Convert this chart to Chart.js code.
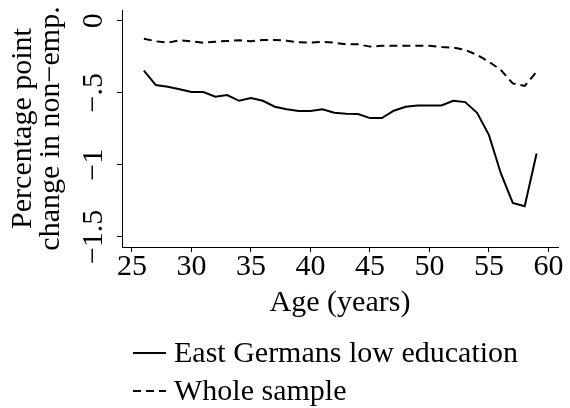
<!DOCTYPE html>
<html>
<head>
<meta charset="utf-8">
<script src="https://cdn.jsdelivr.net/npm/chart.js@4.4.1/dist/chart.umd.min.js"></script>
<style>
  html, body { margin: 0; padding: 0; background: #fff; }
  #wrap { width: 570px; height: 408px; position: relative; }
</style>
</head>
<body>
<div id="wrap"><canvas id="chart"></canvas></div>
<script>
// Data
const ages = [26, 27, 28, 29, 30, 31, 32, 33, 34, 35, 36, 37, 38, 39, 40, 41, 42,
  43, 44, 45, 46, 47, 48, 49, 50, 51, 52, 53, 54, 55, 56, 57, 58, 59];
const eastLowEdu = [-0.347, -0.447, -0.458, -0.476, -0.495, -0.495, -0.528, -0.516, -0.556, -0.537,
  -0.556, -0.597, -0.615, -0.627, -0.627, -0.615, -0.639, -0.645, -0.648, -0.676,
  -0.676, -0.625, -0.597, -0.588, -0.588, -0.588, -0.556, -0.565, -0.639, -0.794,
  -1.06, -1.264, -1.287, -0.921];
const wholeSample = [-0.125, -0.143, -0.153, -0.136, -0.143, -0.153, -0.146, -0.141, -0.136, -0.143,
  -0.134, -0.134, -0.139, -0.150, -0.153, -0.146, -0.153, -0.164, -0.164, -0.180,
  -0.174, -0.174, -0.174, -0.174, -0.174, -0.183, -0.187, -0.203, -0.238, -0.285,
  -0.342, -0.435, -0.453, -0.354];
const seriesNames = ["East Germans low education", "Whole sample"];
const xTicks = [25, 30, 35, 40, 45, 50, 55, 60];
const yTicks = [0, -0.5, -1, -1.5];
const yTickLabels = ["0", "\u2212.5", "\u22121", "\u22121.5"];

const FONT = "'Liberation Serif', 'Times New Roman', serif";
Chart.defaults.font.family = FONT;
Chart.defaults.color = "#000";

// y tick labels (rotated, Stata style) and the stacked legend under the plot
const stataBits = {
  id: "stataBits",
  afterDraw(chart) {
    const ctx = chart.ctx;
    const y = chart.scales.y;
    ctx.save();
    ctx.fillStyle = "#000";
    ctx.font = "30px " + FONT;
    yTicks.forEach((v, i) => {
      ctx.save();
      ctx.translate(102, y.getPixelForValue(v));
      ctx.rotate(-Math.PI / 2);
      ctx.textAlign = "center";
      ctx.textBaseline = "alphabetic";
      ctx.fillText(yTickLabels[i], 0, 0);
      ctx.restore();
    });

    // legend
    const rows = [353, 391];
    chart.data.datasets.forEach((ds, i) => {
      const ly = rows[i];
      ctx.beginPath();
      ctx.strokeStyle = "#000";
      ctx.lineWidth = 2;
      ctx.setLineDash(ds.borderDash || []);
      ctx.moveTo(133, ly);
      ctx.lineTo(166, ly);
      ctx.stroke();
      ctx.setLineDash([]);
      ctx.textAlign = "left";
      ctx.textBaseline = "middle";
      ctx.fillText(ds.label, 174, ly + 1);
    });
    ctx.restore();
  }
};

new Chart(document.getElementById("chart"), {
  type: "line",
  data: {
    datasets: [
      {
        label: seriesNames[0],
        data: ages.map((a, i) => ({ x: a, y: eastLowEdu[i] })),
        borderColor: "#000",
        borderWidth: 2,
        pointRadius: 0,
        tension: 0,
        fill: false
      },
      {
        label: seriesNames[1],
        data: ages.map((a, i) => ({ x: a, y: wholeSample[i] })),
        borderColor: "#000",
        borderWidth: 2,
        borderDash: [8, 5],
        pointRadius: 0,
        tension: 0,
        fill: false
      }
    ]
  },
  options: {
    responsive: true,
    maintainAspectRatio: false,
    devicePixelRatio: 1,
    animation: false,
    layout: { padding: { top: 10, right: 12, bottom: 90, left: 0 } },
    plugins: { legend: { display: false }, tooltip: { enabled: false } },
    scales: {
      x: {
        type: "linear",
        min: 24.16,
        max: 60.8,
        afterBuildTicks: s => { s.ticks = xTicks.map(v => ({ value: v })); },
        afterFit: s => { s.height = 71; },
        ticks: {
          font: { size: 30, lineHeight: 1 },
          padding: 0,
          maxRotation: 0,
          callback: v => String(v)
        },
        grid: { drawOnChartArea: false, drawTicks: true, tickLength: 5, color: "#000", lineWidth: 1 },
        border: { display: true, color: "#000", width: 1 },
        title: {
          display: true,
          text: "Age (years)",
          font: { size: 30, lineHeight: 1 },
          padding: { top: 0, bottom: 0 }
        }
      },
      y: {
        type: "linear",
        min: -1.57,
        max: 0.074,
        afterBuildTicks: s => { s.ticks = yTicks.map(v => ({ value: v })); },
        afterFit: s => { s.width = 122; },
        ticks: { display: false },
        grid: { drawOnChartArea: false, drawTicks: true, tickLength: 5, color: "#000", lineWidth: 1 },
        border: { display: true, color: "#000", width: 1 },
        title: {
          display: true,
          text: ["Percentage point", "change in non\u2212emp."],
          font: { size: 30, lineHeight: "28px" },
          padding: { top: 9, bottom: 0 }
        }
      }
    }
  },
  plugins: [stataBits]
});
</script>
</body>
</html>
